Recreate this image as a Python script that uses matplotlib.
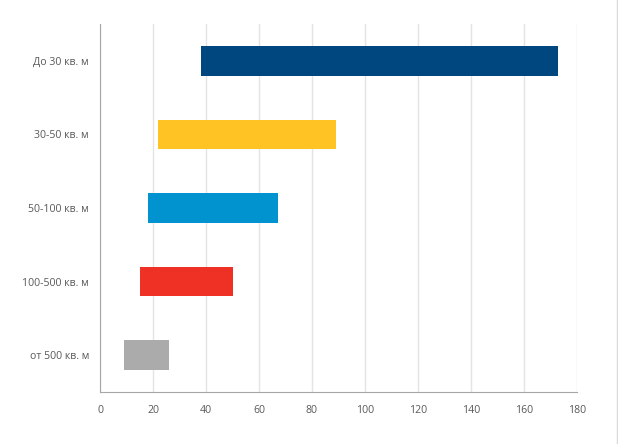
import matplotlib.pyplot as plt
from matplotlib.lines import Line2D

categories = ["До 30 кв. м", "30-50 кв. м", "50-100 кв. м", "100-500 кв. м", "от 500 кв. м"]
starts = [38, 22, 18, 15, 9]
ends = [173, 89, 67, 50, 26]
colors = ["#00467F", "#FFC423", "#0093D0", "#EF3125", "#ABABAB"]

plt.rcParams['font.family'] = ['Open Sans', 'DejaVu Sans']

fig = plt.figure(figsize=(6.18, 4.44), dpi=100)
ax = fig.add_axes([100/618, 1-392/444, 477/618, 368/444])

ypos = list(range(len(categories)))
widths = [e - s for s, e in zip(starts, ends)]
ax.barh(ypos, widths, left=starts, height=0.4, color=colors, zorder=3)

ax.set_xlim(0, 180)
ax.set_xticks(range(0, 181, 20))
ax.set_ylim(len(categories) - 0.5, -0.5)
ax.set_yticks(ypos)
ax.set_yticklabels(categories)

ax.grid(axis='x', color='#E4E4E4', linewidth=1, zorder=0)
ax.tick_params(length=0, labelsize=7.6, colors='#595959')
ax.tick_params(axis='y', pad=8)
ax.tick_params(axis='x', pad=9)
for side in ['top', 'right']:
    ax.spines[side].set_visible(False)
for side in ['left', 'bottom']:
    ax.spines[side].set_color('#A6A6A6')

fig.add_artist(Line2D([617/618, 617/618], [0, 1], color='#D9D9D9', linewidth=1))

fig.savefig("out.png", dpi=100)
